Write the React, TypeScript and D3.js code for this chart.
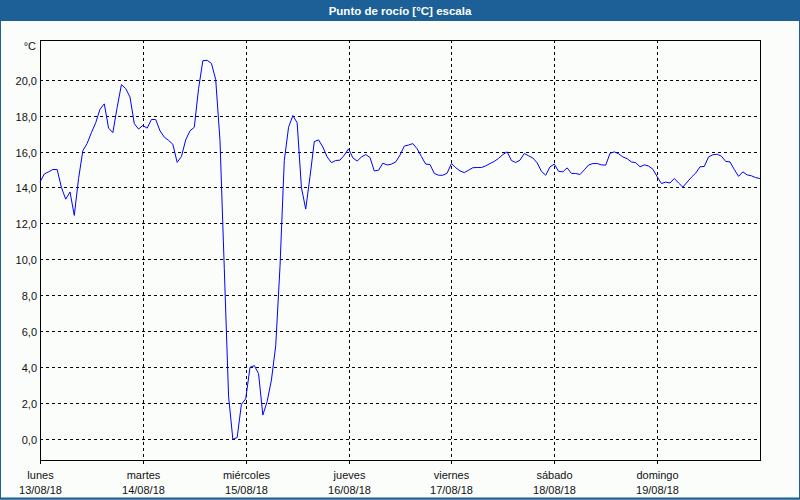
import React, { useEffect, useRef } from 'react'
import * as d3 from 'd3'

// hourly dew point readings, 13/08/18 00:00 .. 20/08/18 00:00
const dewPoint: number[] = [
  // lunes
  14.3, 14.75, 14.87, 15.0, 15.0, 14.0, 13.35, 13.75, 12.45, 14.5, 16.05, 16.45,
  17.05, 17.6, 18.35, 18.65, 17.3, 17.05, 18.45, 19.72, 19.5, 19.03, 17.55, 17.25,
  // martes
  17.45, 17.3, 17.78, 17.78, 17.15, 16.8, 16.62, 16.4, 15.4, 15.72, 16.65, 17.15,
  17.35, 19.5, 21.05, 21.07, 20.9, 20.0, 16.6, 9.5, 2.4, 0.0, 0.1, 1.95,
  // miércoles
  2.25, 4.0, 4.1, 3.65, 1.35, 2.1, 3.3, 5.2, 9.6, 15.5, 17.35, 18.0,
  17.6, 14.0, 12.8, 14.6, 16.55, 16.65, 16.25, 15.7, 15.38, 15.5, 15.52, 15.8,
  // jueves
  16.15, 15.65, 15.47, 15.7, 15.83, 15.67, 14.92, 14.96, 15.35, 15.25, 15.3, 15.42,
  15.8, 16.3, 16.36, 16.44, 16.15, 15.72, 15.3, 15.28, 14.78, 14.68, 14.68, 14.8,
  // viernes
  15.33, 15.1, 14.92, 14.83, 14.96, 15.1, 15.11, 15.11, 15.2, 15.33, 15.45, 15.62,
  15.83, 15.98, 15.5, 15.39, 15.52, 15.89, 15.76, 15.64, 15.37, 14.9, 14.68, 15.15,
  // sábado
  15.3, 14.9, 14.87, 15.09, 14.78, 14.78, 14.72, 14.98, 15.25, 15.33, 15.33, 15.26,
  15.24, 15.9, 15.98, 15.88, 15.7, 15.6, 15.42, 15.38, 15.15, 15.26, 15.19, 15.02,
  // domingo
  14.6, 14.22, 14.3, 14.25, 14.5, 14.25, 14.02, 14.3, 14.57, 14.8, 15.15, 15.17,
  15.7, 15.82, 15.85, 15.74, 15.45, 15.42, 15.0, 14.62, 14.87, 14.7, 14.65, 14.55,
  14.5,
]

const dayNames = ['lunes', 'martes', 'miércoles', 'jueves', 'viernes', 'sábado', 'domingo']
const dayDates = ['13/08/18', '14/08/18', '15/08/18', '16/08/18', '17/08/18', '18/08/18', '19/08/18']
const yTicks = [0, 2, 4, 6, 8, 10, 12, 14, 16, 18, 20]

const title = 'Punto de rocío [°C] escala'
const unit = '°C'

export default function App() {
  const svgRef = useRef<SVGSVGElement>(null)

  useEffect(() => {
    if (!svgRef.current) return
    const width = 800
    const height = 500
    const svg = d3.select(svgRef.current)
    svg.selectAll('*').remove()
    svg.attr('width', width).attr('height', height)

    const left = 40
    const right = 760
    const top = 40
    const bottom = 460
    const font = '"Liberation Sans", Arial, sans-serif'
    const blue = '#1d5f97'

    // background + border
    svg.append('rect').attr('width', width).attr('height', height).attr('fill', '#fbfdfb')
    svg.append('rect').attr('width', width).attr('height', 21).attr('fill', blue)
    svg
      .append('rect')
      .attr('x', 0.5)
      .attr('y', 0.5)
      .attr('width', width - 1)
      .attr('height', height - 1.5)
      .attr('fill', 'none')
      .attr('stroke', blue)
      .attr('stroke-width', 1)
    svg
      .append('line')
      .attr('x1', 0).attr('x2', width)
      .attr('y1', height - 1.5).attr('y2', height - 1.5)
      .attr('stroke', blue)
      .attr('stroke-width', 2)

    svg
      .append('text')
      .attr('x', width / 2)
      .attr('y', 14.5)
      .attr('text-anchor', 'middle')
      .attr('fill', '#ffffff')
      .style('font-family', font)
      .style('font-weight', 'bold')
      .style('font-size', '11.5px')
      .text(title)

    // scales
    const xScale = d3.scaleLinear().domain([0, dayNames.length * 24]).range([left, right])
    const yScale = d3.scaleLinear().domain([-1.15, 22.2]).range([bottom, top])
    const px = (v: number) => Math.round(v) + 0.5

    // horizontal grid + labels
    const grid = svg.append('g').attr('shape-rendering', 'crispEdges')
    yTicks.forEach((t) => {
      const y = px(yScale(t))
      grid
        .append('line')
        .attr('x1', left).attr('x2', right)
        .attr('y1', y).attr('y2', y)
        .attr('stroke', '#000')
        .attr('stroke-dasharray', '3,3')
      svg
        .append('text')
        .attr('x', 37)
        .attr('y', y + 4)
        .attr('text-anchor', 'end')
        .attr('fill', '#111')
        .style('font-family', font)
        .style('font-size', '11px')
        .text(d3.format('.1f')(t).replace('.', ','))
    })

    // vertical day grid, ticks and labels
    dayNames.forEach((name, i) => {
      const x = px(xScale(i * 24))
      if (i > 0) {
        grid
          .append('line')
          .attr('x1', x).attr('x2', x)
          .attr('y1', top).attr('y2', bottom)
          .attr('stroke', '#000')
          .attr('stroke-dasharray', '3,3')
      }
      grid
        .append('line')
        .attr('x1', x).attr('x2', x)
        .attr('y1', bottom).attr('y2', bottom + 4)
        .attr('stroke', '#000')
      svg
        .append('text')
        .attr('x', x)
        .attr('y', 479)
        .attr('text-anchor', 'middle')
        .attr('fill', '#111')
        .style('font-family', font)
        .style('font-size', '11px')
        .text(name)
      svg
        .append('text')
        .attr('x', x)
        .attr('y', 494)
        .attr('text-anchor', 'middle')
        .attr('fill', '#111')
        .style('font-family', font)
        .style('font-size', '11px')
        .text(dayDates[i])
    })

    // frame
    grid
      .append('rect')
      .attr('x', px(left))
      .attr('y', px(top))
      .attr('width', right - left)
      .attr('height', bottom - top)
      .attr('fill', 'none')
      .attr('stroke', '#000')

    svg
      .append('text')
      .attr('x', 36)
      .attr('y', 50)
      .attr('text-anchor', 'end')
      .attr('fill', '#111')
      .style('font-family', font)
      .style('font-size', '11px')
      .text(unit)

    // dew point line
    const line = d3
      .line<number>()
      .x((_, i) => xScale(i))
      .y((d) => yScale(d))

    svg
      .append('path')
      .datum(dewPoint)
      .attr('d', line)
      .attr('fill', 'none')
      .attr('stroke', '#0000ff')
      .attr('stroke-width', 1)
  }, [])

  return (
    <div style={{ position: 'absolute', left: 0, top: 0 }}>
      <svg ref={svgRef} style={{ display: 'block' }}></svg>
    </div>
  )
}
